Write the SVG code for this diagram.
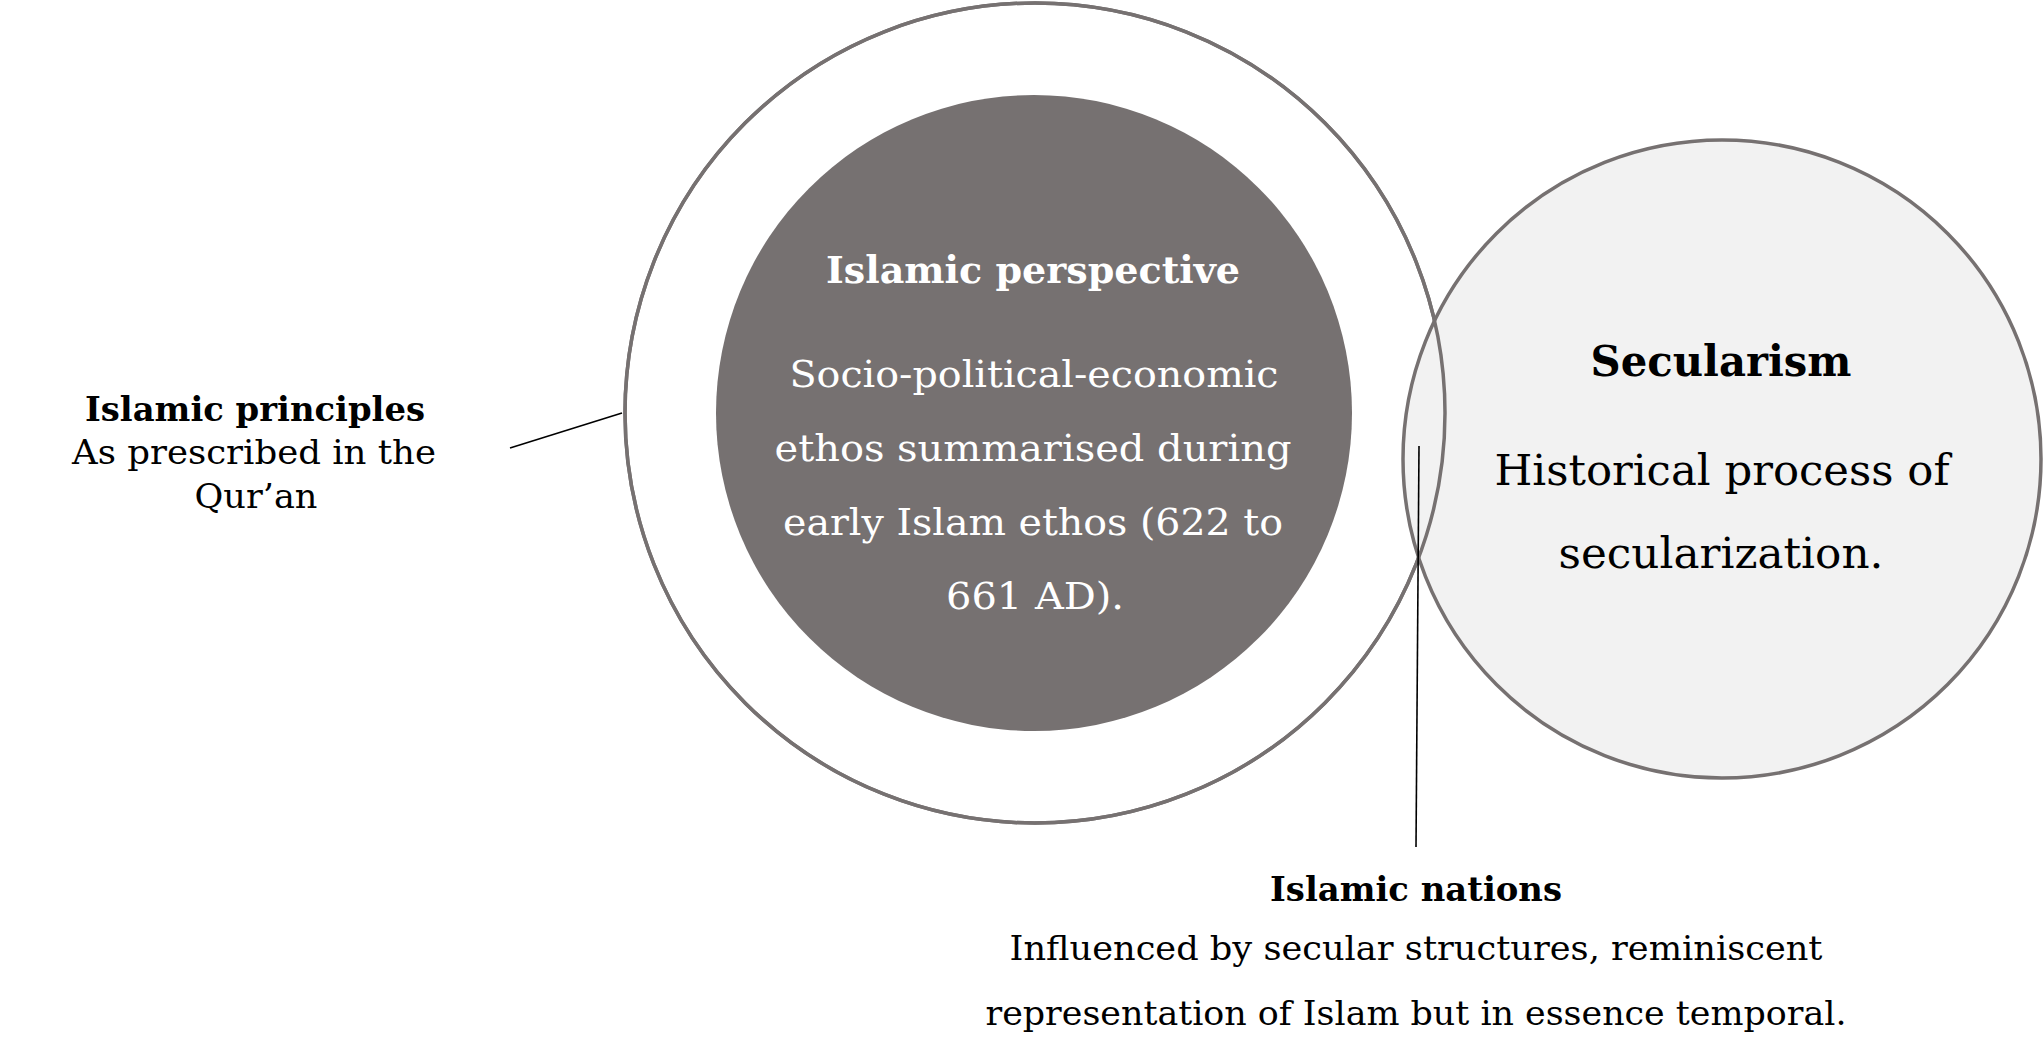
<svg xmlns="http://www.w3.org/2000/svg" width="2044" height="1058" viewBox="0 0 2044 1058">
<style>
.ring{fill:#ffffff;stroke:#767171;stroke-width:3.5}
.core{fill:#767171;stroke:none}
.sec{fill:#f2f2f2;stroke:#767171;stroke-width:3.5}
.t{font-family:"DejaVu Serif","Liberation Serif",serif;text-anchor:middle}
.b{font-weight:bold}
.w{fill:#ffffff}
.k{fill:#000000}
.conn{stroke:#000000;stroke-width:1.6;fill:none}
</style>
<rect width="2044" height="1058" fill="#ffffff"/>
<g id="islamic-principles-circle">
<circle class="ring" cx="1035" cy="413" r="410"/>
</g>
<g id="secularism">
<circle class="sec" cx="1722" cy="459" r="319"/>
<text class="t b k" x="1721" y="376" font-size="42" textLength="261" lengthAdjust="spacingAndGlyphs">Secularism</text>
<text class="t k" x="1722" y="485" font-size="42" textLength="455" lengthAdjust="spacingAndGlyphs">Historical process of</text>
<text class="t k" x="1721" y="568" font-size="42" textLength="325" lengthAdjust="spacingAndGlyphs">secularization.</text>
</g>
<g id="outer-ring-stroke">
<circle cx="1035" cy="413" r="410" fill="none" stroke="#767171" stroke-width="3.5"/>
</g>
<g id="islamic-perspective">
<circle class="core" cx="1034" cy="413" r="318"/>
<text class="t b w" x="1033" y="283" font-size="38" textLength="414" lengthAdjust="spacingAndGlyphs">Islamic perspective</text>
<text class="t w" x="1034" y="387" font-size="37" textLength="489" lengthAdjust="spacingAndGlyphs">Socio-political-economic</text>
<text class="t w" x="1033" y="461" font-size="37" textLength="517" lengthAdjust="spacingAndGlyphs">ethos summarised during</text>
<text class="t w" x="1033" y="535" font-size="37" textLength="500" lengthAdjust="spacingAndGlyphs">early Islam ethos (622 to</text>
<text class="t w" x="1035" y="609" font-size="37" textLength="178" lengthAdjust="spacingAndGlyphs">661 AD).</text>
</g>
<g id="connectors">
<line class="conn" x1="510" y1="448" x2="622" y2="413"/>
<line class="conn" x1="1419" y1="446" x2="1416" y2="847"/>
</g>
<g id="islamic-principles-label">
<text class="t b k" x="255" y="421" font-size="34" textLength="340" lengthAdjust="spacingAndGlyphs">Islamic principles</text>
<text class="t k" x="254" y="464" font-size="34" textLength="364" lengthAdjust="spacingAndGlyphs">As prescribed in the</text>
<text class="t k" x="256" y="508" font-size="34" textLength="123" lengthAdjust="spacingAndGlyphs">Qur’an</text>
</g>
<g id="islamic-nations-label">
<text class="t b k" x="1416" y="901" font-size="34" textLength="292" lengthAdjust="spacingAndGlyphs">Islamic nations</text>
<text class="t k" x="1416" y="960" font-size="34" textLength="813" lengthAdjust="spacingAndGlyphs">Influenced by secular structures, reminiscent</text>
<text class="t k" x="1416" y="1025" font-size="34" textLength="861" lengthAdjust="spacingAndGlyphs">representation of Islam but in essence temporal.</text>
</g>
</svg>
